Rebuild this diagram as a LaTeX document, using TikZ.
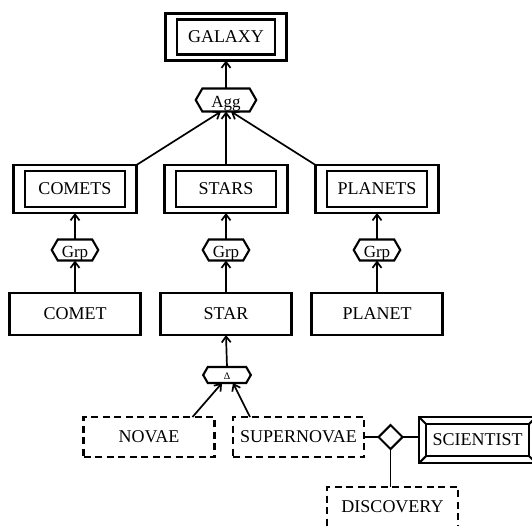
\documentclass[tikz,border=0pt]{standalone}
\usepackage{fontspec}
\setmainfont{Liberation Serif}
\usepackage{tikz}
\usetikzlibrary{
  arrows.meta, positioning, calc, fit,
  shapes.geometric, shapes.symbols
}
\tikzset{
  ent/.style={
    draw, line width=2.1pt, outer sep=0pt, inner sep=0pt,
    minimum width=131pt, minimum height=42pt,
    font=\fontsize{18}{20}\selectfont
  },
  weakent/.style={
    ent, dash pattern=on 7pt off 4.5pt, minimum height=40pt
  },
  inbox/.style={
    draw, line width=2.1pt, outer sep=0pt, inner sep=0pt,
    minimum width=100pt, minimum height=36pt,
    font=\fontsize{18}{20}\selectfont
  },
  outbox/.style={draw, line width=2.1pt, outer sep=0pt, inner xsep=11.5pt, inner ysep=6pt},
  hexa/.style={
    draw, line width=2.1pt, signal, signal to=west and east,
    signal pointer angle=120, outer sep=0pt,
    inner xsep=#1, inner ysep=3pt, text height=15pt, text depth=0pt,
    minimum height=21pt, font=\fontsize{17}{19}\selectfont
  },
  rel/.style={draw, diamond, line width=2.1pt, minimum size=24pt, inner sep=0pt, outer sep=0pt},
  arrow/.style={-{Straight Barb[length=6pt,width=9pt]}, line width=1.7pt},
  link/.style={line width=1.7pt}
}

\begin{document}
\begin{tikzpicture}[x=1pt, y=-1pt]
  \useasboundingbox (0,0) rectangle (532,525);
  % aggregate level
  \node[inbox, minimum width=98pt, minimum height=35pt] (galaxy) at (226,37) {GALAXY};
  \node[outbox, fit=(galaxy)] (galaxyout) {};
  \node[hexa=9pt, minimum height=23pt] (agg) at (226,100) {Agg};
  % sets
  \node[inbox] (comets) at (75,189) {COMETS};
  \node[outbox, fit=(comets)] (cometsout) {};
  \node[inbox] (stars) at (226,189) {STARS};
  \node[outbox, fit=(stars)] (starsout) {};
  \node[inbox] (planets) at (377,189) {PLANETS};
  \node[outbox, fit=(planets)] (planetsout) {};
  \node[hexa=4pt] (grpc) at (75,250) {Grp};
  \node[hexa=4pt] (grps) at (226,250) {Grp};
  \node[hexa=4pt] (grpp) at (377,250) {Grp};
  % members
  \node[ent] (comet) at (75,314) {COMET};
  \node[ent] (star) at (226,314) {STAR};
  \node[ent] (planet) at (377,314) {PLANET};
  \node[hexa=16pt, minimum height=16pt, inner ysep=3.5pt, text height=9pt, font=\fontsize{10}{12}\selectfont] (delta) at (227,375) {Δ};
  \node[weakent] (novae) at (149,437) {NOVAE};
  \node[weakent] (supernovae) at (298.5,437) {SUPERNOVAE};
  \node[rel] (found) at (390.5,437) {};
  \node[weakent] (discovery) at (392.5,507) {DISCOVERY};
  \node[inbox, minimum width=103pt, minimum height=32pt] (scientist) at (477.5,440) {SCIENTIST};
  \node[outbox, inner xsep=7pt, inner ysep=7pt, fit=(scientist)] (sciout) {};
  \foreach \c in {north west, north east, south west, south east}
    \draw[line width=2.1pt] (sciout.\c) -- (scientist.\c);

  \draw[arrow] (agg.north) -- (galaxyout.south);
  \draw[arrow] (cometsout.north east) -- ([xshift=-5pt]agg.south);
  \draw[arrow] (starsout.north) -- (agg.south);
  \draw[arrow] (planetsout.north west) -- ([xshift=5pt]agg.south);
  \draw[arrow] (grpc.north) -- (cometsout.south);
  \draw[arrow] (grps.north) -- (starsout.south);
  \draw[arrow] (grpp.north) -- (planetsout.south);
  \draw[arrow] (comet.north) -- (grpc.south);
  \draw[arrow] (star.north) -- (grps.south);
  \draw[arrow] (planet.north) -- (grpp.south);
  \draw[arrow] (delta.north) -- (star.south);
  \draw[arrow] ([xshift=-22pt]novae.north east) -- ([xshift=-5pt]delta.south);
  \draw[arrow] ([xshift=17pt]supernovae.north west) -- ([xshift=6pt]delta.south);
  \draw[link] (supernovae.east) -- (found.west);
  \draw[link] (found.east) -- (found.east -| sciout.west);
  \draw[link] (found.south) -- (discovery.north -| found.south);
\end{tikzpicture}
\end{document}
